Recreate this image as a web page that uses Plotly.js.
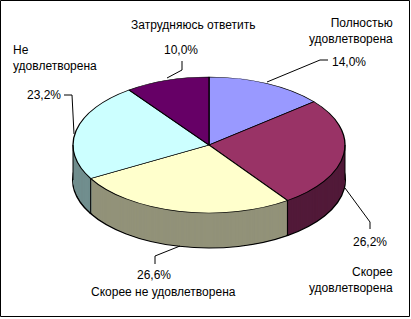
<!DOCTYPE html>
<html><head><meta charset="utf-8">
<script src="https://cdn.plot.ly/plotly-3.0.1.min.js"></script>
<style>
html,body{margin:0;padding:0;background:#fff;width:411px;height:319px;overflow:hidden}
#pie{position:absolute;left:0;top:0;width:411px;height:500px;transform:scaleY(0.5);transform-origin:0 0}
#over{position:absolute;left:0;top:0;width:411px;height:319px}
</style></head><body>
<div id="pie"></div><div id="over"></div>
<script>
const categories = ["Полностью удовлетворена","Скорее удовлетворена","Скорее не удовлетворена","Не удовлетворена","Затрудняюсь ответить"];
const values = [14.0, 26.2, 26.6, 23.2, 10.0];
const valueLabels = ["14,0%","26,2%","26,6%","23,2%","10,0%"];
const topColors = ["#9999FF","#993366","#FFFFCC","#CCFFFF","#660066"];
const sideColors = ["#6b6bb3","#521a39","#929279","#718e8e","#3d003d"];

// geometry (screen px)
const CX = 209, CY = 145, R = 136, SQ = 0.5, DEPTH = 35;
const PW = 411, PH = 500;

function pieTrace(offsetPre, colors, lineW){
  const cyPre = CY / SQ + offsetPre;
  return {
    type:'pie', values: values, labels: categories, sort:false, direction:'clockwise', rotation:0,
    textinfo:'none', hoverinfo:'skip', showlegend:false,
    marker:{colors: colors, line:{color:'#000', width: lineW}},
    domain:{x:[(CX-R)/PW,(CX+R)/PW], y:[(PH-cyPre-R)/PH,(PH-cyPre+R)/PH]}
  };
}
const traces = [];
const depthPre = DEPTH / SQ;
traces.push(pieTrace(depthPre, sideColors, 2));
for (let d = depthPre - 2; d > 0; d -= 2) traces.push(pieTrace(d, sideColors, 0));
traces.push(pieTrace(0, topColors, 1.3));

Plotly.newPlot('pie', traces, {
  width:PW, height:PH, margin:{l:0,r:0,t:0,b:0},
  paper_bgcolor:'rgba(0,0,0,0)', plot_bgcolor:'rgba(0,0,0,0)'
}, {staticPlot:true});

// overlay: side edges, leader lines, texts, border
const shapes = [];
const ln = (x0,y0,x1,y1)=>({type:'line',xref:'x',yref:'y',x0,y0,x1,y1,line:{color:'#000',width:1}});
// vertical edges on the visible front of the cylinder side, from slice boundaries and the extremes
const total = values.reduce((a,b)=>a+b,0);
let cum = 0;
const edgeAngles = [Math.PI/2, 3*Math.PI/2];
values.forEach(v=>{ cum += v; edgeAngles.push(cum/total*2*Math.PI); });
edgeAngles.forEach(a=>{
  const x = CX + R*Math.sin(a), y = CY - R*SQ*Math.cos(a);
  if (y >= CY - 0.5) shapes.push(ln(x, y, x, y + DEPTH));
});
// leader lines
shapes.push(ln(328,60,320,60), ln(320,60,267,82));          // 14,0%
shapes.push(ln(345,188,370,222), ln(370,222,370,229));      // 26,2%
shapes.push(ln(155,264,155,256), ln(155,256,180,246));      // 26,6%
shapes.push(ln(64,95,72,95), ln(72,95,74,134));             // 23,2%
shapes.push(ln(182,61,182,70), ln(182,70,167,78));          // 10,0%
// border
shapes.push({type:'rect',xref:'x',yref:'y',x0:0.5,y0:0.5,x1:409.5,y1:316.5,line:{color:'#000',width:1}});

const F = {family:'Liberation Sans, Arial, sans-serif', size:12, color:'#000'};
const ann = (x,y,text,xanchor)=>({x,y,xref:'x',yref:'y',text,showarrow:false,xanchor:xanchor||'center',yanchor:'middle',font:F,align:xanchor==='right'?'right':(xanchor==='left'?'left':'center')});
const annotations = [
  ann(395,31,"Полностью<br>удовлетворена",'right'),
  ann(330,62,valueLabels[0],'left'),
  ann(389,242,valueLabels[1],'right'),
  ann(395,280,"Скорее<br>удовлетворена",'right'),
  ann(154,275,valueLabels[2]),
  ann(163,292,categories[2]),
  ann(11,58,"Не<br>удовлетворена",'left'),
  ann(63,95,valueLabels[3],'right'),
  ann(181,50,valueLabels[4]),
  ann(193,25,categories[4])
];
Plotly.newPlot('over', [], {
  width:411, height:319, margin:{l:0,r:0,t:0,b:0},
  paper_bgcolor:'rgba(0,0,0,0)', plot_bgcolor:'rgba(0,0,0,0)',
  xaxis:{range:[0,411],visible:false,fixedrange:true},
  yaxis:{range:[319,0],visible:false,fixedrange:true},
  shapes, annotations, showlegend:false
}, {staticPlot:true});
</script></body></html>
